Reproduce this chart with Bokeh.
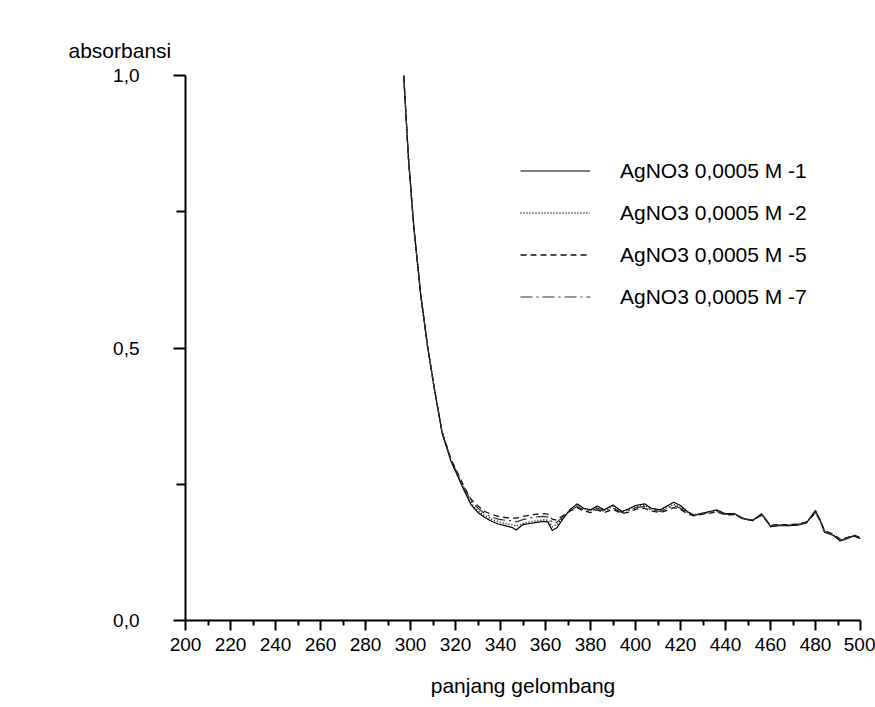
from bokeh.plotting import figure
from bokeh.models import (Range1d, FixedTicker, CustomJSTickFormatter, Legend,
                          LegendItem, Title)
from bokeh.embed import file_html
from bokeh.resources import INLINE

# Wavelength grid (nm) shared by all spectra
wavelength = [297, 299, 301.5, 304.5, 307.5, 310.5, 314, 318, 321.5, 324, 327, 330,
              333, 336, 339, 342, 345, 347, 350, 353, 356, 359, 361, 363, 365, 368,
              371, 374, 377, 380, 383, 386, 390, 394, 397, 400, 404, 407, 411, 414,
              417, 420, 423, 426, 430, 433, 436, 440, 444, 448, 452, 456, 458, 460,
              464, 468, 472, 476, 480, 482, 484, 488, 491, 494, 497, 500]

# Absorbance of the four AgNO3 0,0005 M samples
abs_m1 = [1.000, 0.855, 0.722, 0.600, 0.506, 0.428, 0.345, 0.292, 0.260, 0.237, 0.212, 0.198,
          0.189, 0.182, 0.177, 0.174, 0.171, 0.166, 0.176, 0.178, 0.180, 0.182, 0.181, 0.165,
          0.170, 0.188, 0.204, 0.214, 0.206, 0.203, 0.210, 0.203, 0.212, 0.200, 0.205, 0.211,
          0.214, 0.206, 0.203, 0.210, 0.217, 0.211, 0.200, 0.193, 0.197, 0.200, 0.203, 0.196,
          0.196, 0.187, 0.183, 0.196, 0.185, 0.172, 0.174, 0.174, 0.175, 0.179, 0.202, 0.185,
          0.162, 0.156, 0.146, 0.150, 0.155, 0.150]
abs_m2 = [1.000, 0.853, 0.720, 0.599, 0.505, 0.427, 0.345, 0.293, 0.262, 0.239, 0.215, 0.201,
          0.192, 0.186, 0.181, 0.178, 0.176, 0.173, 0.178, 0.181, 0.183, 0.185, 0.184, 0.172,
          0.176, 0.190, 0.203, 0.211, 0.205, 0.202, 0.208, 0.202, 0.209, 0.200, 0.204, 0.209,
          0.211, 0.205, 0.202, 0.207, 0.213, 0.208, 0.199, 0.194, 0.197, 0.199, 0.201, 0.195,
          0.195, 0.187, 0.184, 0.194, 0.184, 0.174, 0.175, 0.175, 0.176, 0.180, 0.199, 0.184,
          0.164, 0.157, 0.148, 0.151, 0.156, 0.151]
abs_m5 = [1.000, 0.852, 0.719, 0.598, 0.505, 0.428, 0.347, 0.296, 0.266, 0.244, 0.222, 0.210,
          0.200, 0.195, 0.191, 0.189, 0.188, 0.188, 0.191, 0.193, 0.195, 0.196, 0.195, 0.186,
          0.184, 0.193, 0.201, 0.207, 0.201, 0.198, 0.203, 0.198, 0.204, 0.196, 0.199, 0.204,
          0.206, 0.201, 0.198, 0.202, 0.207, 0.204, 0.196, 0.192, 0.195, 0.197, 0.199, 0.194,
          0.194, 0.186, 0.184, 0.193, 0.184, 0.175, 0.176, 0.176, 0.177, 0.181, 0.197, 0.184,
          0.165, 0.158, 0.149, 0.152, 0.157, 0.152]
abs_m7 = [1.000, 0.853, 0.720, 0.599, 0.506, 0.428, 0.346, 0.295, 0.264, 0.242, 0.219, 0.206,
          0.196, 0.190, 0.186, 0.184, 0.183, 0.181, 0.185, 0.188, 0.190, 0.191, 0.190, 0.180,
          0.180, 0.191, 0.202, 0.209, 0.203, 0.200, 0.206, 0.200, 0.206, 0.198, 0.202, 0.207,
          0.209, 0.203, 0.200, 0.205, 0.211, 0.206, 0.198, 0.193, 0.196, 0.198, 0.200, 0.195,
          0.195, 0.187, 0.184, 0.195, 0.185, 0.174, 0.175, 0.175, 0.176, 0.180, 0.200, 0.185,
          0.163, 0.157, 0.147, 0.151, 0.156, 0.151]

series_names = ["AgNO3 0,0005 M -1", "AgNO3 0,0005 M -2",
                "AgNO3 0,0005 M -5", "AgNO3 0,0005 M -7"]

x_ticks = list(range(200, 501, 20))
x_minor = list(range(210, 500, 20))
y_ticks = [0.0, 0.5, 1.0]
y_minor = [0.25, 0.75]

FONT = "Liberation Sans"

p = figure(width=875, height=707, output_backend="svg", toolbar_location=None,
           x_range=Range1d(200, 500), y_range=Range1d(0, 1.0),
           min_border_left=185, min_border_right=15,
           min_border_top=75, min_border_bottom=87)
p.outline_line_color = None
p.grid.visible = False
p.background_fill_color = "white"
p.border_fill_color = "white"

styles = [
    dict(line_dash="solid", line_color="#000000", line_width=1.2),
    dict(line_dash="1 2", line_color="#111111", line_width=1.5),
    dict(line_dash="6 4", line_color="#111111", line_width=1.3),
    dict(line_dash="12 4 2 4", line_color="#333333", line_width=1.2),
]
renderers = []
for ys, st in zip([abs_m1, abs_m2, abs_m5, abs_m7], styles):
    r = p.line(wavelength, ys, **st)
    renderers.append(r)

# x axis
xa = p.xaxis[0]
xa.ticker = FixedTicker(ticks=x_ticks, minor_ticks=x_minor)
xa.axis_line_width = 2
xa.major_tick_line_width = 2
xa.minor_tick_line_width = 2
xa.major_tick_out = 10
xa.major_tick_in = 0
xa.minor_tick_out = 5
xa.minor_tick_in = 0
xa.major_label_text_font = FONT
xa.major_label_text_font_size = "19px"
xa.major_label_text_color = "black"
xa.major_label_standoff = 7
xa.axis_label = "panjang gelombang"
xa.axis_label_text_font = FONT
xa.axis_label_text_font_size = "21px"
xa.axis_label_text_font_style = "normal"
xa.axis_label_text_color = "black"
xa.axis_label_standoff = 20

# y axis
ya = p.yaxis[0]
ya.ticker = FixedTicker(ticks=y_ticks, minor_ticks=y_minor)
ya.formatter = CustomJSTickFormatter(code="return tick.toFixed(1).replace('.', ',');")
ya.axis_line_width = 2
ya.major_tick_line_width = 2
ya.minor_tick_line_width = 2
ya.major_tick_out = 12
ya.major_tick_in = 0
ya.minor_tick_out = 9
ya.minor_tick_in = 0
ya.major_label_text_font = FONT
ya.major_label_text_font_size = "19px"
ya.major_label_text_color = "black"
ya.major_label_standoff = 34
ya.major_label_orientation = "horizontal"

# y axis title, horizontal, ending near the axis line
ytitle = Title(text="absorbansi", align="left", offset=-117,
               text_font=FONT, text_font_size="21px", text_font_style="normal",
               text_color="black", standoff=27)
p.add_layout(ytitle, "above")

legend = Legend(items=[LegendItem(label=n, renderers=[r]) for n, r in zip(series_names, renderers)],
                location=(335, 311), orientation="vertical",
                glyph_width=70, glyph_height=25, label_height=25, spacing=17,
                label_standoff=30, padding=0, margin=0,
                label_text_font=FONT, label_text_font_size="21px",
                label_text_color="black",
                border_line_color=None, background_fill_alpha=0)
p.add_layout(legend)

open("out.html", "w").write(file_html(p, INLINE))
